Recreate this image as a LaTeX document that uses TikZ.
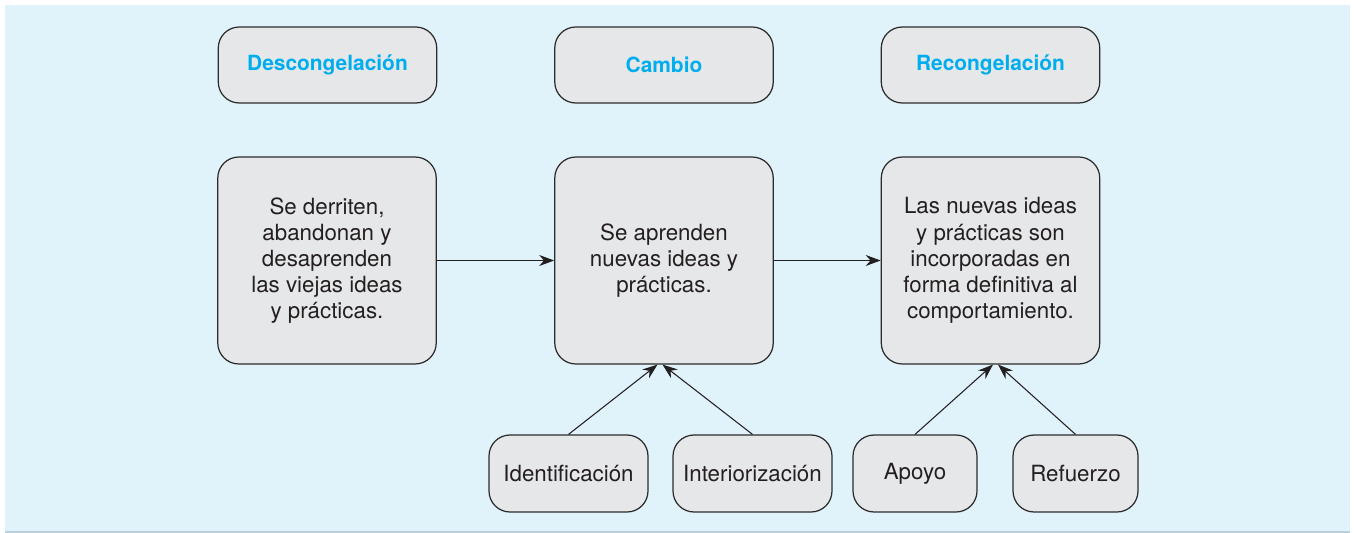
\documentclass[tikz,border=0pt]{standalone}
\usepackage{fontspec}
\setmainfont{TeX Gyre Heros}
\usepackage{xcolor}
\usepackage{tikz}
\usetikzlibrary{arrows.meta}

\definecolor{fondo}{HTML}{E0F3FB}
\definecolor{caja}{HTML}{E6E7E9}
\definecolor{borde}{HTML}{2B2B2B}
\definecolor{titulo}{HTML}{00AEEF}
\definecolor{texto}{HTML}{231F20}
\definecolor{linea}{HTML}{BCD0DA}

\begin{document}
\begin{tikzpicture}[x=0.02cm,y=-0.02cm,>={Stealth[length=3mm,width=2.2mm]},
    font=\fontsize{12.7}{14.9}\selectfont,
    caja/.style={draw=borde,fill=caja,line width=0.7pt,rounded corners=0.42cm,
        text=texto,align=center,inner sep=2pt},
    etapa/.style={caja,minimum width=4.37cm,minimum height=1.52cm,
        text=titulo,font=\fontsize{11.9}{14.9}\selectfont\bfseries},
    proceso/.style={caja,minimum width=4.37cm,minimum height=4.14cm},
    apoyo/.style={caja,minimum height=1.54cm},
    flecha/.style={draw=texto,line width=0.6pt,->}]

\useasboundingbox (0,0) rectangle (1354,533);
\fill[fondo] (5,5) rectangle (1350,532);
\draw[linea,line width=1pt] (5,532) -- (1350,532);

% ---------- etapas ----------
\node[etapa] (descong) at (327.5,65) {Descongelación};
\node[etapa] (cambio) at (664,65) {Cambio};
\node[etapa] (recong) at (990.5,65) {Recongelación};

% ---------- procesos ----------
\node[proceso] (derriten) at (327,260.5) {Se derriten,\\abandonan y\\desaprenden\\las viejas ideas\\y prácticas.};
\node[proceso] (aprenden) at (664,260.5) {Se aprenden\\nuevas ideas y\\prácticas.};
\node[proceso] (incorp) at (990.5,260.5) {Las nuevas ideas\\y prácticas son\\incorporadas en\\forma definitiva al\\comportamiento.};

\draw[flecha] (derriten) -- (aprenden);
\draw[flecha] (aprenden) -- (incorp);

% ---------- mecanismos ----------
\node[apoyo,minimum width=3.18cm] (ident) at (568.5,473.5) {Identificación};
\node[apoyo,minimum width=3.18cm] (inter) at (752.5,473.5) {Interiorización};
\node[apoyo,minimum width=2.48cm] (apoyo) at (915,473.5) {Apoyo};
\node[apoyo,minimum width=2.5cm] (refuerzo) at (1075.5,473.5) {Refuerzo};

\draw[flecha] (ident.north) -- ([xshift=-0.13cm]aprenden.south);
\draw[flecha] (inter.north) -- ([xshift=-0.03cm]aprenden.south);
\draw[flecha] (apoyo.north) -- ([xshift=0.05cm]incorp.south);
\draw[flecha] (refuerzo.north) -- ([xshift=0.15cm]incorp.south);

\end{tikzpicture}
\end{document}
